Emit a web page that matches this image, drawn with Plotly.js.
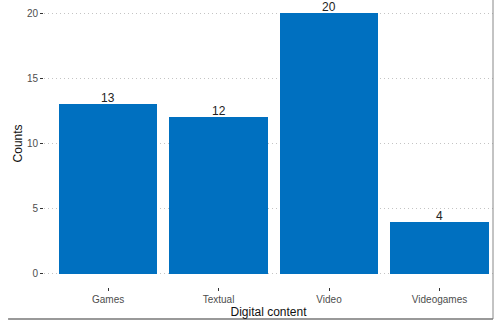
<!DOCTYPE html>
<html><head><meta charset="utf-8">
<script src="https://cdn.plot.ly/plotly-3.0.1.min.js"></script>
<style>html,body{margin:0;padding:0;background:#fff;}#chart{width:498px;height:320px;}</style>
</head><body><div id="chart"></div>
<script>
const categories = ["Games", "Textual", "Video", "Videogames"];
const counts = [13, 12, 20, 4];
const yTicks = [0, 5, 10, 15, 20];

const trace = {
  type: 'bar', x: categories, y: counts,
  marker: {color: '#0070C0'}, width: 0.89,
  hoverinfo: 'none'
};
const labelAnnotations = categories.map((c, i) => ({
  x: c, y: counts[i], xref: 'x', yref: 'y', text: String(counts[i]),
  showarrow: false, yanchor: 'bottom', yshift: -3,
  font: {family: 'Liberation Sans, Arial, sans-serif', size: 12, color: '#222'}
}));
const layout = {
  width: 498, height: 320,
  margin: {l: 44, r: 5, t: 0, b: 33},
  paper_bgcolor: '#fff', plot_bgcolor: '#fff',
  showlegend: false,
  bargap: 0,
  font: {family: 'Liberation Sans, Arial, sans-serif'},
  xaxis: {
    type: 'category', range: [-0.58, 3.484],
    showgrid: false, zeroline: false, showline: false,
    ticks: 'outside', ticklen: 3, tickcolor: '#333', tickwidth: 1,
    tickfont: {size: 10, color: '#4d4d4d'},
    title: {text: 'Digital content', font: {size: 12, color: '#111'}, standoff: 2}
  },
  yaxis: {
    range: [-1, 21], tickvals: yTicks, ticktext: yTicks.map(String),
    showgrid: true, gridcolor: '#c4c4c4', griddash: '1px,3px', gridwidth: 1,
    zeroline: false, showline: false,
    ticks: 'outside', ticklen: 3, tickcolor: '#333', tickwidth: 1,
    tickfont: {size: 10, color: '#4d4d4d'}
  },
  annotations: labelAnnotations.concat([
    {xref: 'paper', yref: 'paper', x: -0.058, y: 0.5, text: 'Counts', textangle: -90,
     showarrow: false, xanchor: 'center', yanchor: 'middle',
     font: {family: 'Liberation Sans, Arial, sans-serif', size: 12, color: '#111'}}
  ]),
  shapes: [
    {type: 'line', xref: 'paper', yref: 'paper', x0: 1, x1: 1, y0: -0.1115, y1: 1, line: {color: '#888', width: 1}},
    {type: 'line', xref: 'paper', yref: 'paper', x0: -0.08, x1: 1, y0: -0.1115, y1: -0.1115, line: {color: '#777', width: 1.5}}
  ]
};
Plotly.newPlot('chart', [trace], layout, {displayModeBar: false, staticPlot: true});
</script></body></html>
